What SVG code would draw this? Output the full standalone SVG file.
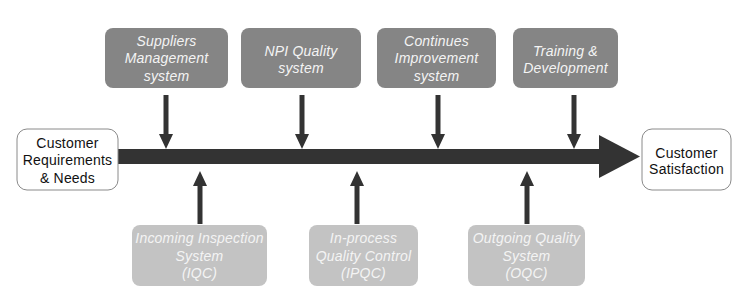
<svg xmlns="http://www.w3.org/2000/svg" width="744" height="307" viewBox="0 0 744 307">
<defs>
<style>
.top rect{fill:#858585;}
.bot rect{fill:#c3c3c3;}
.end rect{fill:#fff;stroke:#8a8a8a;stroke-width:1;}
.lbl{font-family:"Liberation Sans",Arial,sans-serif;font-size:14px;letter-spacing:0.2px;text-anchor:middle;}
.it{font-style:italic;fill:#f4f4f4;}
.bk{fill:#111;}
.conn line{stroke:#333;stroke-width:5;}
.conn polygon,.conn rect{fill:#333;}
</style>
</defs>
<rect width="744" height="307" fill="#fff"/>
<g id="connectors" class="conn">
<rect x="118" y="149" width="484" height="15"/>
<polygon points="599,135 640,156.5 599,178"/>
<line x1="166" y1="95" x2="166" y2="135"/>
<polygon points="159,134 173,134 166,149"/>
<line x1="302" y1="95" x2="302" y2="135"/>
<polygon points="295,134 309,134 302,149"/>
<line x1="438" y1="95" x2="438" y2="135"/>
<polygon points="431,134 445,134 438,149"/>
<line x1="574" y1="95" x2="574" y2="135"/>
<polygon points="567,134 581,134 574,149"/>
<line x1="200" y1="224" x2="200" y2="185"/>
<polygon points="193,186 207,186 200,171"/>
<line x1="357" y1="224" x2="357" y2="185"/>
<polygon points="350,186 364,186 357,171"/>
<line x1="527" y1="224" x2="527" y2="185"/>
<polygon points="520,186 534,186 527,171"/>
</g>
<g id="customer-req" class="end">
<rect x="17" y="129" width="101" height="61" rx="10"/>
<text class="lbl bk" x="67.5" y="148">Customer</text>
<text class="lbl bk" x="67.5" y="165">Requirements</text>
<text class="lbl bk" x="67.5" y="183">&amp; Needs</text>
</g>
<g id="customer-sat" class="end">
<rect x="642" y="129" width="89" height="61" rx="10"/>
<text class="lbl bk" x="686.5" y="158">Customer</text>
<text class="lbl bk" x="686.5" y="174">Satisfaction</text>
</g>
<g id="suppliers" class="top">
<rect x="105" y="28" width="123" height="60" rx="8"/>
<text class="lbl it" x="166.5" y="46">Suppliers</text>
<text class="lbl it" x="166.5" y="63">Management</text>
<text class="lbl it" x="166.5" y="81">system</text>
</g>
<g id="npi" class="top">
<rect x="241" y="28" width="120" height="60" rx="8"/>
<text class="lbl it" x="301" y="56">NPI Quality</text>
<text class="lbl it" x="301" y="73">system</text>
</g>
<g id="continues" class="top">
<rect x="377" y="28" width="119" height="60" rx="8"/>
<text class="lbl it" x="436.5" y="46">Continues</text>
<text class="lbl it" x="436.5" y="63">Improvement</text>
<text class="lbl it" x="436.5" y="81">system</text>
</g>
<g id="training" class="top">
<rect x="513" y="28" width="105" height="60" rx="8"/>
<text class="lbl it" x="565.5" y="56">Training &amp;</text>
<text class="lbl it" x="565.5" y="73">Development</text>
</g>
<g id="iqc" class="bot">
<rect x="132" y="225" width="135" height="61" rx="8"/>
<text class="lbl it" x="199.5" y="243">Incoming Inspection</text>
<text class="lbl it" x="199.5" y="261">System</text>
<text class="lbl it" x="199.5" y="278">(IQC)</text>
</g>
<g id="ipqc" class="bot">
<rect x="309" y="225" width="109" height="61" rx="8"/>
<text class="lbl it" x="363.5" y="243">In-process</text>
<text class="lbl it" x="363.5" y="261">Quality Control</text>
<text class="lbl it" x="363.5" y="278">(IPQC)</text>
</g>
<g id="oqc" class="bot">
<rect x="468" y="225" width="117" height="61" rx="8"/>
<text class="lbl it" x="526.5" y="243">Outgoing Quality</text>
<text class="lbl it" x="526.5" y="261">System</text>
<text class="lbl it" x="526.5" y="278">(OQC)</text>
</g>
</svg>
